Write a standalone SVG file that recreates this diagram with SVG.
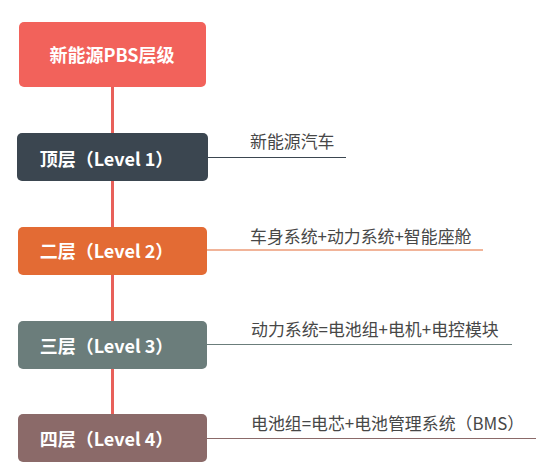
<svg xmlns="http://www.w3.org/2000/svg" width="549" height="474" viewBox="0 0 549 474">
<style>
.box-t{font-family:"Noto Sans CJK SC","Liberation Sans",sans-serif;font-weight:bold;font-size:18px;fill:#ffffff;text-anchor:middle}
.lbl{font-family:"Noto Sans CJK SC","Liberation Sans",sans-serif;font-size:16.9px;fill:#474747}
.ln{stroke-width:1.2;fill:none}
</style>
<rect width="549" height="474" fill="#ffffff"/>
<g id="connectors">
<line x1="112.5" y1="87" x2="112.5" y2="414" stroke="#e8605a" stroke-width="3"/>
<line class="ln" x1="208" y1="157.5" x2="346" y2="157.5" stroke="#3b4650"/>
<line class="ln" x1="207" y1="250" x2="483" y2="250" stroke="#e36b34"/>
<line class="ln" x1="207" y1="344.5" x2="512" y2="344.5" stroke="#6b7d7b"/>
<line class="ln" x1="207" y1="438.5" x2="536" y2="438.5" stroke="#8b6a69"/>
</g>
<g id="root">
<rect x="19" y="22" width="187" height="65" rx="5" fill="#f2625b"/>
<text class="box-t" x="112" y="62">新能源PBS层级</text>
</g>
<g id="level1">
<rect x="17" y="133" width="191" height="48" rx="5" fill="#3b4650"/>
<text class="box-t" x="106.5" y="166">顶层（Level 1）</text>
</g>
<g id="level2">
<rect x="18" y="227" width="189" height="48" rx="5" fill="#e36b34"/>
<text class="box-t" x="106.5" y="258">二层（Level 2）</text>
</g>
<g id="level3">
<rect x="18" y="321" width="189" height="48" rx="5" fill="#6b7d7b"/>
<text class="box-t" x="106.5" y="353">三层（Level 3）</text>
</g>
<g id="level4">
<rect x="18" y="414" width="189" height="48" rx="5" fill="#8b6a69"/>
<text class="box-t" x="106.5" y="446">四层（Level 4）</text>
</g>
<g id="label1"><text class="lbl" x="250" y="148">新能源汽车</text></g>
<g id="label2"><text class="lbl" x="250" y="243">车身系统+动力系统+智能座舱</text></g>
<g id="label3"><text class="lbl" x="251" y="336">动力系统=电池组+电机+电控模块</text></g>
<g id="label4"><text class="lbl" x="251" y="430">电池组=电芯+电池管理系统（BMS）</text></g>
</svg>
